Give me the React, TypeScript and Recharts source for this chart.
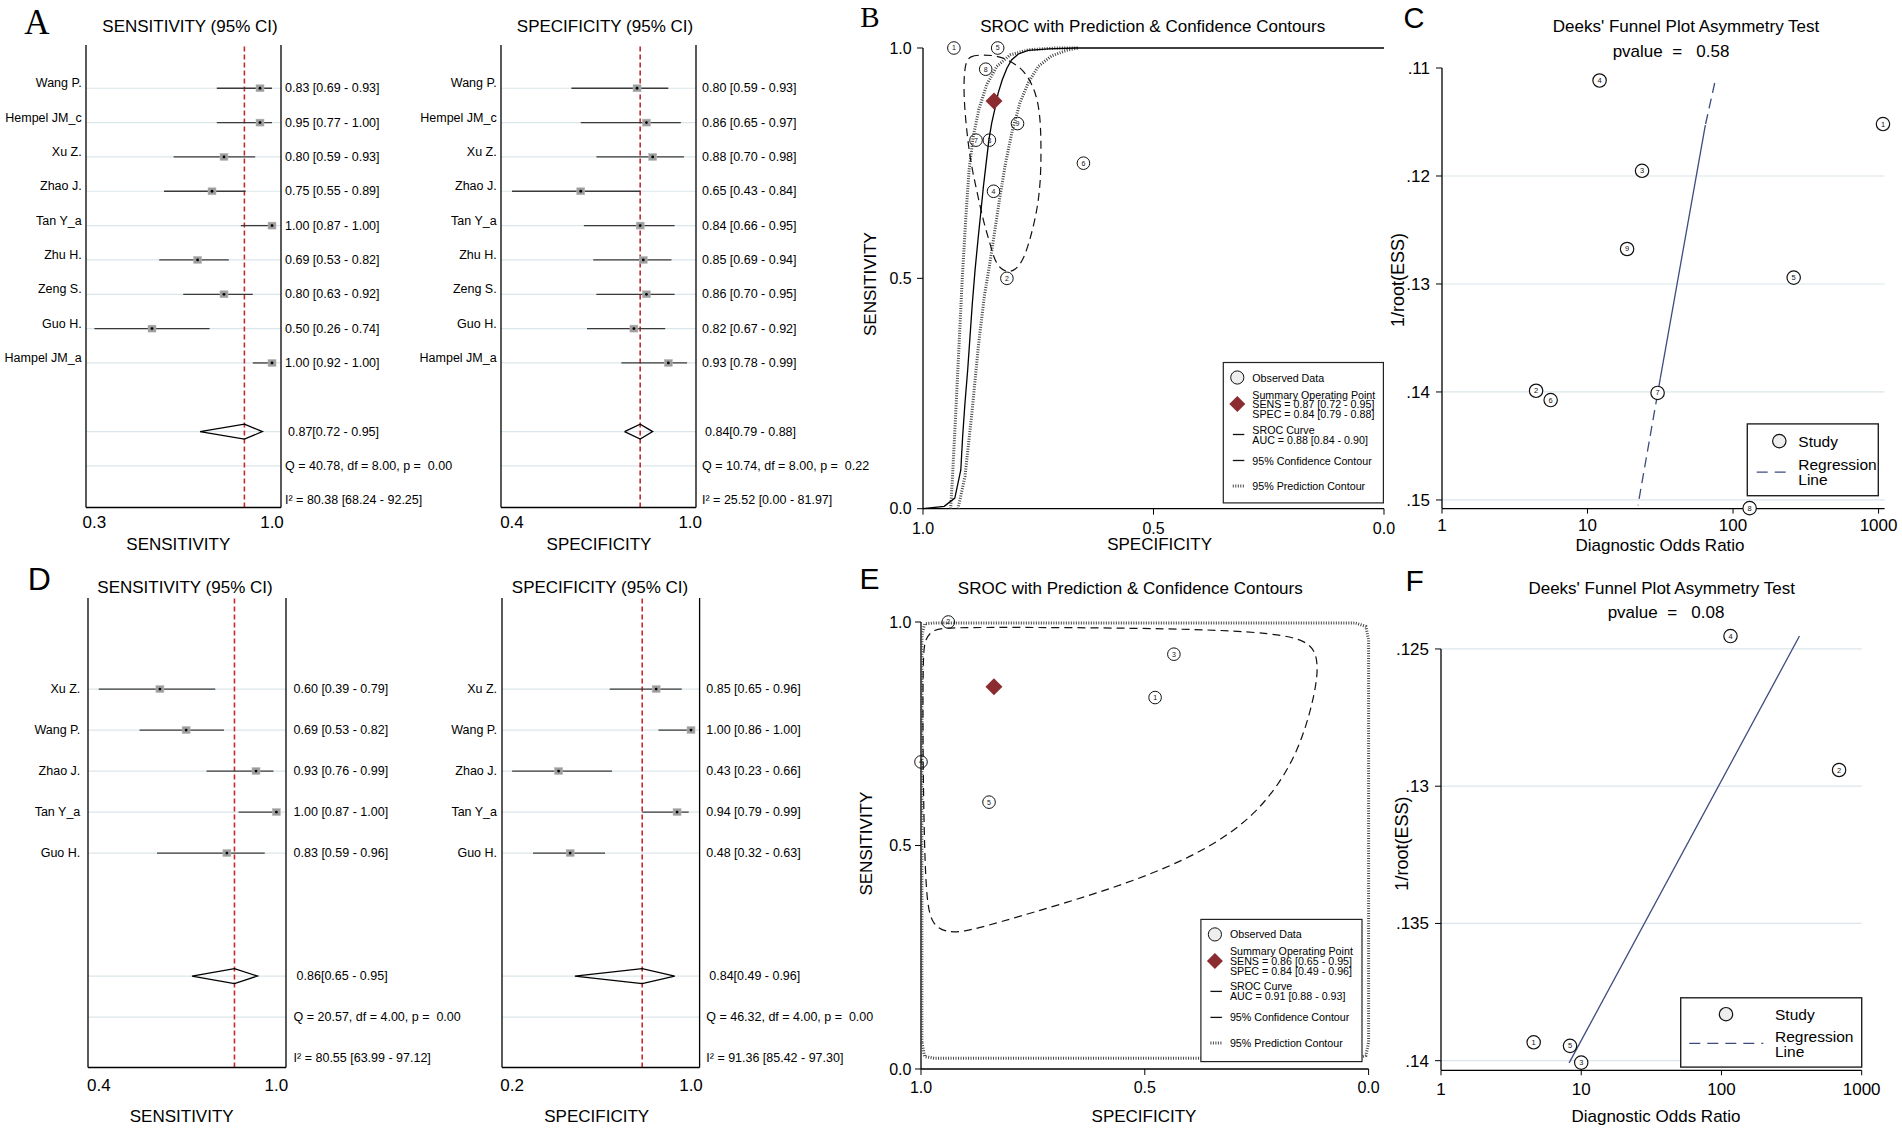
import React from 'react';
import { ScatterChart, Scatter, XAxis, YAxis, ReferenceLine } from 'recharts';

const SANS = '"Liberation Sans", Arial, Helvetica, sans-serif';
const SERIF = '"Liberation Serif", "Times New Roman", serif';
const RED = '#c62a2f';
const WINE = '#8b2c31';
const NAVY = '#3d4c7e';
const GRID = '#dbe6ea';
const PRED = '#444';

// ---- panel A: forest plots, 9 studies
const studiesA = ['Wang P.', 'Hempel JM_c', 'Xu Z.', 'Zhao J.', 'Tan Y_a', 'Zhu H.', 'Zeng S.', 'Guo H.', 'Hampel JM_a'];
const sensA = [0.95, 0.95, 0.8, 0.75, 1.0, 0.69, 0.8, 0.5, 1.0];
const sensLoA = [0.77, 0.77, 0.59, 0.55, 0.87, 0.53, 0.63, 0.26, 0.92];
const sensHiA = [1.0, 1.0, 0.93, 0.89, 1.0, 0.82, 0.92, 0.74, 1.0];
const sensTextA = ['0.83 [0.69 - 0.93]', '0.95 [0.77 - 1.00]', '0.80 [0.59 - 0.93]', '0.75 [0.55 - 0.89]', '1.00 [0.87 - 1.00]', '0.69 [0.53 - 0.82]', '0.80 [0.63 - 0.92]', '0.50 [0.26 - 0.74]', '1.00 [0.92 - 1.00]'];
const sensPoolA = [0.7, 0.885, 0.96];
const sensStatsA = ['0.87[0.72 - 0.95]', 'Q = 40.78, df = 8.00, p =  0.00', 'I² = 80.38 [68.24 - 92.25]'];

const specA = [0.83, 0.86, 0.88, 0.65, 0.84, 0.85, 0.86, 0.82, 0.93];
const specLoA = [0.62, 0.65, 0.7, 0.43, 0.66, 0.69, 0.7, 0.67, 0.78];
const specHiA = [0.93, 0.97, 0.98, 0.84, 0.95, 0.94, 0.95, 0.92, 0.99];
const specTextA = ['0.80 [0.59 - 0.93]', '0.86 [0.65 - 0.97]', '0.88 [0.70 - 0.98]', '0.65 [0.43 - 0.84]', '0.84 [0.66 - 0.95]', '0.85 [0.69 - 0.94]', '0.86 [0.70 - 0.95]', '0.82 [0.67 - 0.92]', '0.93 [0.78 - 0.99]'];
const specPoolA = [0.79, 0.84, 0.88];
const specStatsA = ['0.84[0.79 - 0.88]', 'Q = 10.74, df = 8.00, p =  0.22', 'I² = 25.52 [0.00 - 81.97]'];

// ---- panel D: forest plots, 5 studies
const studiesD = ['Xu Z.', 'Wang P.', 'Zhao J.', 'Tan Y_a', 'Guo H.'];
const sensD = [0.6, 0.69, 0.93, 1.0, 0.83];
const sensLoD = [0.39, 0.53, 0.76, 0.87, 0.59];
const sensHiD = [0.79, 0.82, 0.99, 1.0, 0.96];
const sensTextD = ['0.60 [0.39 - 0.79]', '0.69 [0.53 - 0.82]', '0.93 [0.76 - 0.99]', '1.00 [0.87 - 1.00]', '0.83 [0.59 - 0.96]'];
const sensPoolD = [0.71, 0.856, 0.935];
const sensStatsD = ['0.86[0.65 - 0.95]', 'Q = 20.57, df = 4.00, p =  0.00', 'I² = 80.55 [63.99 - 97.12]'];

const specD = [0.85, 1.0, 0.43, 0.94, 0.48];
const specLoD = [0.65, 0.86, 0.23, 0.79, 0.32];
const specHiD = [0.96, 1.0, 0.66, 0.99, 0.63];
const specTextD = ['0.85 [0.65 - 0.96]', '1.00 [0.86 - 1.00]', '0.43 [0.23 - 0.66]', '0.94 [0.79 - 0.99]', '0.48 [0.32 - 0.63]'];
const specPoolD = [0.5, 0.79, 0.93];
const specStatsD = ['0.84[0.49 - 0.96]', 'Q = 46.32, df = 4.00, p =  0.00', 'I² = 91.36 [85.42 - 97.30]'];

// ---- panel B: SROC (x = specificity, y = sensitivity)
const obsSpecB = [0.933, 0.818, 0.856, 0.847, 0.838, 0.652, 0.885, 0.864, 0.795];
const obsSensB = [1.0, 0.5, 0.8, 0.689, 1.0, 0.75, 0.8, 0.954, 0.836];
const summaryB = [0.846, 0.885];
const srocB = [[1.0, 0.0], [0.954, 0.005], [0.931, 0.023], [0.918, 0.084], [0.914, 0.157], [0.909, 0.229], [0.903, 0.302], [0.898, 0.374], [0.893, 0.446], [0.887, 0.519], [0.88, 0.591], [0.874, 0.649], [0.869, 0.699], [0.863, 0.75], [0.857, 0.801], [0.851, 0.837], [0.842, 0.877], [0.837, 0.902], [0.828, 0.931], [0.818, 0.956], [0.808, 0.974], [0.793, 0.987], [0.772, 0.995], [0.728, 0.998], [0.67, 1.0], [0.0, 1.0]];
const confB = [[0.909, 0.967], [0.898, 0.983], [0.873, 0.985], [0.844, 0.984], [0.818, 0.976], [0.786, 0.956], [0.768, 0.931], [0.753, 0.895], [0.746, 0.851], [0.744, 0.801], [0.744, 0.736], [0.748, 0.678], [0.757, 0.627], [0.768, 0.584], [0.782, 0.54], [0.8, 0.517], [0.818, 0.513], [0.833, 0.522], [0.845, 0.54], [0.855, 0.577], [0.866, 0.613], [0.876, 0.656], [0.887, 0.707], [0.896, 0.75], [0.903, 0.801], [0.909, 0.859], [0.912, 0.916]];
const predB = [[0.94, 0.0], [0.936, 0.07], [0.929, 0.207], [0.922, 0.352], [0.915, 0.497], [0.907, 0.634], [0.9, 0.736], [0.891, 0.808], [0.879, 0.866], [0.862, 0.92], [0.84, 0.96], [0.811, 0.985], [0.772, 0.996], [0.714, 1.0], [0.663, 1.0], [0.685, 0.996], [0.721, 0.983], [0.75, 0.96], [0.772, 0.924], [0.79, 0.88], [0.806, 0.822], [0.821, 0.75], [0.833, 0.678], [0.844, 0.605], [0.855, 0.533], [0.867, 0.461], [0.88, 0.352], [0.894, 0.207], [0.909, 0.07], [0.924, 0.0]];

// ---- panel E: SROC
const obsSpecE = [0.477, 0.939, 0.435, 1.0, 0.848];
const obsSensE = [0.831, 1.0, 0.928, 0.687, 0.597];
const summaryE = [0.837, 0.855];
const confE = [[0.991, 0.963], [0.972, 0.984], [0.937, 0.988], [0.675, 0.988], [0.368, 0.984], [0.214, 0.975], [0.137, 0.959], [0.114, 0.926], [0.114, 0.869], [0.137, 0.771], [0.175, 0.673], [0.252, 0.567], [0.368, 0.486], [0.522, 0.421], [0.675, 0.372], [0.829, 0.327], [0.906, 0.306], [0.945, 0.306], [0.975, 0.323], [0.987, 0.372], [0.992, 0.486], [0.995, 0.649], [0.996, 0.812], [0.995, 0.926]];
const predE = [[0.998, 0.06], [0.998, 0.97], [0.992, 0.996], [0.97, 0.998], [0.03, 0.998], [0.006, 0.99], [0.0, 0.96], [0.0, 0.06], [0.006, 0.03], [0.03, 0.024], [0.97, 0.024], [0.992, 0.028]];

// ---- panel C: Deeks funnel (x = diagnostic odds ratio, y = 1/root(ESS))
const dorC = [1072, 4.43, 23.7, 12.1, 261, 5.58, 30.3, 130, 18.7];
const essC = [0.11519, 0.13989, 0.11952, 0.11116, 0.12941, 0.14075, 0.14009, 0.15076, 0.12676];
const regTopC = [[74.8, 0.11139], [64.5, 0.11529]];
const regMidC = [[64.5, 0.11529], [31.6, 0.13877]];
const regLowC = [[31.6, 0.13877], [22.2, 0.15051]];

// ---- panel F: Deeks funnel
const dorF = [4.58, 690, 10.0, 116, 8.32];
const essF = [0.13933, 0.12941, 0.14007, 0.12453, 0.13946];
const regF = [[8.2, 0.14008], [360, 0.12453]];

type Frame = { x: number; y: number; w: number; h: number };

const fmt1 = (v: number) => v.toFixed(1);
const fmtEss = (v: number) => String(v).replace(/^0/, '');
const Empty = () => <g />;

const lineSeries = (key: string, pts: number[][], stroke: string, w: number, dash?: string, joint: any = 'linear', yAxisId?: string) => (
  <Scatter
    key={key}
    yAxisId={yAxisId}
    data={pts.map(([x, y]) => ({ x, y }))}
    line={{ stroke, strokeWidth: w, strokeDasharray: dash }}
    lineJointType={joint}
    shape={Empty}
    isAnimationActive={false}
  />
);

const Marker = (s: any) => (
  <g>
    <rect x={s.cx - 4} y={s.cy - 3.5} width={8} height={7} fill="#9d9d9d" stroke="#b8b8b8" strokeWidth={0.5} />
    <circle cx={s.cx} cy={s.cy} r={1.4} fill="#000" />
  </g>
);

const ObsShape = (s: any) => (
  <g>
    <circle cx={s.cx} cy={s.cy} r={6.3} fill="none" stroke="#111" strokeWidth={1} />
    <text x={s.cx} y={s.cy} textAnchor="middle" dominantBaseline="central" fontSize={7} fill="#111">{s.payload.id}</text>
  </g>
);

const StudyShape = (s: any) => (
  <g>
    <circle cx={s.cx} cy={s.cy} r={6.7} fill="#fff" stroke="#111" strokeWidth={1.2} />
    <text x={s.cx} y={s.cy} textAnchor="middle" dominantBaseline="central" fontSize={7.5} fill="#111">{s.payload.id}</text>
  </g>
);

const DiamondShape = (s: any) => (
  <polygon points={`${s.cx},${s.cy - 8.5} ${s.cx + 8.5},${s.cy} ${s.cx},${s.cy + 8.5} ${s.cx - 8.5},${s.cy}`} fill={WINE} />
);

type ForestProps = {
  frame: Frame; xDomain: [number, number]; xTicks: number[]; yDomain: [number, number];
  names: string[]; est: number[]; lo: number[]; hi: number[]; texts: string[];
  pool: number[]; stats: string[]; poolRow: number;
  nameGap: number; textGap: number; tickGap: number; nameDy: number;
};

function Forest(p: ForestProps) {
  const leftW = 100, rightW = 210, xH = 45;
  const n = p.names.length;
  const rows = p.names.map((_, i) => i + 1);
  const statRows = [p.poolRow, p.poolRow + 1, p.poolRow + 2];
  const dh = 7.5 / (p.frame.h / (p.yDomain[1] - p.yDomain[0]));
  const points = p.est.map((v, i) => ({ x: v, y: i + 1 }));
  const r = p.poolRow;
  const diamond = [
    [p.pool[0], r], [p.pool[1], r - dh], [p.pool[2], r], [p.pool[1], r + dh], [p.pool[0], r],
  ];
  const nameTick = (t: any) => (
    <text x={t.x} y={t.y + p.nameDy} textAnchor="end" dominantBaseline="central" fontSize={12.5} fill="#000">
      {p.names[Math.round(t.payload.value) - 1]}
    </text>
  );
  const textTick = (t: any) => {
    const v = Math.round(t.payload.value);
    const label = v <= n ? p.texts[v - 1] : p.stats[v - p.poolRow];
    return (
      <text x={t.x + (v === p.poolRow ? 3 : 0)} y={t.y} textAnchor="start" dominantBaseline="central" fontSize={12.5} fill="#000" xmlSpace="preserve">
        {label}
      </text>
    );
  };
  return (
    <div style={{ position: 'absolute', left: p.frame.x - leftW, top: p.frame.y }}>
      <ScatterChart width={leftW + p.frame.w + rightW} height={p.frame.h + xH} margin={{ top: 0, right: 0, bottom: 0, left: 0 }}>
        <XAxis type="number" dataKey="x" domain={p.xDomain} ticks={p.xTicks} interval={0} tickFormatter={fmt1} height={xH}
          axisLine={{ stroke: '#000', strokeWidth: 1.3 }} tickLine={false} tickSize={0} tickMargin={p.tickGap} tick={{ fill: '#000', fontSize: 17 }} />
        <YAxis yAxisId="l" type="number" dataKey="y" domain={p.yDomain} reversed ticks={rows} interval={0} width={leftW}
          axisLine={{ stroke: '#000', strokeWidth: 1.3 }} tickLine={false} tickSize={0} tickMargin={p.nameGap} tick={nameTick} />
        <YAxis yAxisId="r" orientation="right" type="number" dataKey="y" domain={p.yDomain} reversed ticks={[...rows, ...statRows]} interval={0} width={rightW}
          axisLine={{ stroke: '#000', strokeWidth: 1.3 }} tickLine={false} tickSize={0} tickMargin={p.textGap} tick={textTick} />
        {[...rows, p.poolRow, p.poolRow + 1].map((y) => (
          <ReferenceLine key={'g' + y} yAxisId="l" y={y} stroke={GRID} strokeWidth={1.2} />
        ))}
        <ReferenceLine yAxisId="l" x={p.pool[1]} stroke={RED} strokeWidth={1.6} strokeDasharray="5 3" />
        {rows.map((y, i) => (
          <ReferenceLine key={'ci' + y} yAxisId="l" segment={[{ x: p.lo[i], y }, { x: p.hi[i], y }]} stroke="#3a3a3a" strokeWidth={1.3} />
        ))}
        <Scatter yAxisId="r" data={points} shape={Empty} isAnimationActive={false} />
        <Scatter yAxisId="l" data={points} shape={Marker} isAnimationActive={false} />
        {lineSeries('diamond', diamond, '#000', 1.3, undefined, 'linear', 'l')}
      </ScatterChart>
    </div>
  );
}

type SrocProps = {
  frame: Frame; spec: number[]; sens: number[]; summary: number[];
  sroc?: number[][]; conf: number[][]; pred: number[][]; predJoint: string;
  xTM: number; yTM: number;
};

function Sroc(p: SrocProps) {
  const yW = 60, xH = 50, mt = 20, mr = 25;
  const obs = p.spec.map((x, i) => ({ x, y: p.sens[i], id: i + 1 }));
  return (
    <div style={{ position: 'absolute', left: p.frame.x - yW, top: p.frame.y - mt }}>
      <ScatterChart width={yW + p.frame.w + mr} height={mt + p.frame.h + xH} margin={{ top: mt, right: mr, bottom: 0, left: 0 }}>
        <XAxis type="number" dataKey="x" domain={[0, 1]} reversed ticks={[0, 0.5, 1]} interval={0} tickFormatter={fmt1} height={xH}
          axisLine={{ stroke: '#000', strokeWidth: 1.3 }} tickLine={{ stroke: '#000' }} tickSize={6} tickMargin={p.xTM} tick={{ fill: '#000', fontSize: 16 }} />
        <YAxis type="number" dataKey="y" domain={[0, 1]} ticks={[0, 0.5, 1]} interval={0} tickFormatter={fmt1} width={yW}
          axisLine={{ stroke: '#000', strokeWidth: 1.3 }} tickLine={{ stroke: '#000' }} tickSize={6} tickMargin={p.yTM} tick={{ fill: '#000', fontSize: 16 }} />
        {lineSeries('pred', p.pred, PRED, 3, '1 1.5', p.predJoint)}
        {lineSeries('conf', p.conf, '#111', 1.2, '8 5', 'basisClosed')}
        {p.sroc && lineSeries('sroc', p.sroc, '#000', 1.3)}
        <Scatter data={obs} shape={ObsShape} isAnimationActive={false} />
        <Scatter data={[{ x: p.summary[0], y: p.summary[1] }]} shape={DiamondShape} isAnimationActive={false} />
      </ScatterChart>
    </div>
  );
}

type DeeksProps = {
  frame: Frame; xMax: number; yDomain: [number, number]; yTicks: number[]; grid: number[];
  dor: number[]; ess: number[]; reg: { pts: number[][]; dash?: string }[]; axisFrom?: number; xTM: number;
};

function Deeks(p: DeeksProps) {
  const yW = 60, xH = 50, mt = 20, mr = 30;
  const pts = p.dor.map((x, i) => ({ x, y: p.ess[i], id: i + 1 }));
  const ownAxis = p.axisFrom !== undefined;
  return (
    <div style={{ position: 'absolute', left: p.frame.x - yW, top: p.frame.y - mt }}>
      <ScatterChart width={yW + p.frame.w + mr} height={mt + p.frame.h + xH} margin={{ top: mt, right: mr, bottom: 0, left: 0 }}>
        <XAxis type="number" dataKey="x" scale="log" domain={[1, p.xMax]} ticks={[1, 10, 100, 1000]} interval={0} height={xH}
          axisLine={{ stroke: '#000', strokeWidth: 1.3 }} tickLine={{ stroke: '#000' }} tickSize={5} tickMargin={p.xTM} tick={{ fill: '#000', fontSize: 17 }} />
        <YAxis type="number" dataKey="y" reversed domain={p.yDomain} ticks={p.yTicks} interval={0} tickFormatter={fmtEss} width={yW}
          axisLine={ownAxis ? false : { stroke: '#000', strokeWidth: 1.3 }} tickLine={{ stroke: '#000' }} tickSize={6} tickMargin={6} tick={{ fill: '#000', fontSize: 17 }} />
        {p.grid.map((g) => <ReferenceLine key={'g' + g} y={g} stroke={GRID} strokeWidth={1.2} />)}
        {ownAxis && (
          <ReferenceLine segment={[{ x: 1, y: p.axisFrom as number }, { x: 1, y: p.yDomain[1] - 0.00001 }]} stroke="#000" strokeWidth={1.3} />
        )}
        {p.reg.map((s, i) => lineSeries('reg' + i, s.pts, NAVY, 1.3, s.dash))}
        <Scatter data={pts} shape={StudyShape} isAnimationActive={false} />
      </ScatterChart>
    </div>
  );
}

const T = (props: { x: number; y: number; s?: number; a?: string; f?: string; rot?: boolean; children: any }) => {
  const { x, y, s = 17, a = 'middle', f = SANS, rot, children } = props;
  return (
    <text x={x} y={y} fontSize={s} textAnchor={a as any} dominantBaseline="central" fontFamily={f} fill="#000"
      xmlSpace="preserve" transform={rot ? `rotate(-90 ${x} ${y})` : undefined}>
      {children}
    </text>
  );
};

const SrocLegend = (props: { x: number; y: number; w: number; h: number; sens: string; spec: string; auc: string }) => {
  const { x, y, w, h } = props;
  const tx = x + 29, fs = 10.7;
  return (
    <g>
      <rect x={x} y={y} width={w} height={h} fill="#fff" stroke="#222" strokeWidth={1.2} />
      <circle cx={x + 14} cy={y + 15} r={6.6} fill="#eee" stroke="#111" strokeWidth={1} />
      <T x={tx} y={y + 15} s={fs} a="start">Observed Data</T>
      <polygon points={`${x + 14},${y + 33.5} ${x + 22},${y + 41.5} ${x + 14},${y + 49.5} ${x + 6},${y + 41.5}`} fill={WINE} />
      <T x={tx} y={y + 32} s={fs} a="start">Summary Operating Point</T>
      <T x={tx} y={y + 41.5} s={fs} a="start">{props.sens}</T>
      <T x={tx} y={y + 51.5} s={fs} a="start">{props.spec}</T>
      <line x1={x + 9.5} x2={x + 21} y1={y + 72} y2={y + 72} stroke="#111" strokeWidth={1.3} />
      <T x={tx} y={y + 67} s={fs} a="start">SROC Curve</T>
      <T x={tx} y={y + 77} s={fs} a="start">{props.auc}</T>
      <line x1={x + 9.5} x2={x + 21} y1={y + 98} y2={y + 98} stroke="#111" strokeWidth={1.3} />
      <T x={tx} y={y + 98} s={fs} a="start">95% Confidence Contour</T>
      <line x1={x + 9.5} x2={x + 21} y1={y + 123.5} y2={y + 123.5} stroke={PRED} strokeWidth={3} strokeDasharray="1 1.5" />
      <T x={tx} y={y + 123.5} s={fs} a="start">95% Prediction Contour</T>
    </g>
  );
};

const DeeksLegend = (props: { x: number; y: number; w: number; h: number; cx: number; tx: number; d0: number; d1: number; cy: number; r1: number; r2: number; dy: number }) => {
  const { x, y, w, h } = props;
  return (
    <g>
      <rect x={x} y={y} width={w} height={h} fill="#fff" stroke="#222" strokeWidth={1.4} />
      <circle cx={x + props.cx} cy={y + props.cy} r={6.7} fill="#eee" stroke="#111" strokeWidth={1.2} />
      <T x={x + props.tx} y={y + props.cy} s={15.5} a="start">Study</T>
      <line x1={x + props.d0} x2={x + props.d1} y1={y + props.dy} y2={y + props.dy} stroke={NAVY} strokeWidth={1.3} strokeDasharray="11 7" />
      <T x={x + props.tx} y={y + props.r1} s={15.5} a="start">Regression</T>
      <T x={x + props.tx} y={y + props.r2} s={15.5} a="start">Line</T>
    </g>
  );
};

export default function App() {
  return (
    <div style={{ position: 'absolute', left: 0, top: 0, width: 1902, height: 1132, background: '#fff', fontFamily: SANS, overflow: 'hidden' }}>
      <Forest frame={{ x: 86, y: 44.6, w: 195, h: 462.5 }} xDomain={[0.225, 1.0375]} xTicks={[0.26, 1.0]} yDomain={[-0.26, 13.21]}
        names={studiesA} est={sensA} lo={sensLoA} hi={sensHiA} texts={sensTextA} pool={sensPoolA} stats={sensStatsA} poolRow={11}
        nameGap={4.3} textGap={4} tickGap={8.3} nameDy={-5} />
      <Forest frame={{ x: 501, y: 44.6, w: 195, h: 462.5 }} xDomain={[0.395, 1.0185]} xTicks={[0.43, 1.0]} yDomain={[-0.26, 13.21]}
        names={studiesA} est={specA} lo={specLoA} hi={specHiA} texts={specTextA} pool={specPoolA} stats={specStatsA} poolRow={11}
        nameGap={4.3} textGap={6} tickGap={8.3} nameDy={-5} />
      <Forest frame={{ x: 87.7, y: 598.3, w: 198, h: 469.5 }} xDomain={[0.353, 1.033]} xTicks={[0.39, 1.0]} yDomain={[-1.22, 10.23]}
        names={studiesD} est={sensD} lo={sensLoD} hi={sensHiD} texts={sensTextD} pool={sensPoolD} stats={sensStatsD} poolRow={8}
        nameGap={7.7} textGap={7.6} tickGap={11.6} nameDy={0} />
      <Forest frame={{ x: 501.7, y: 598.3, w: 197.6, h: 469.5 }} xDomain={[0.1865, 1.037]} xTicks={[0.23, 1.0]} yDomain={[-1.22, 10.23]}
        names={studiesD} est={specD} lo={specLoD} hi={specHiD} texts={specTextD} pool={specPoolD} stats={specStatsD} poolRow={8}
        nameGap={5} textGap={6.7} tickGap={11.6} nameDy={0} />

      <Sroc frame={{ x: 923, y: 48.2, w: 461, h: 460.7 }} spec={obsSpecB} sens={obsSensB} summary={summaryB}
        sroc={srocB} conf={confB} pred={predB} predJoint="linear" xTM={8.1} yTM={5.3} />
      <Sroc frame={{ x: 921.3, y: 622, w: 447.6, h: 447 }} spec={obsSpecE} sens={obsSensE} summary={summaryE}
        conf={confE} pred={predE} predJoint="linearClosed" xTM={6.6} yTM={3.6} />

      <Deeks frame={{ x: 1441.7, y: 67.9, w: 442.6, h: 440.6 }} xMax={1100} yDomain={[0.11, 0.1508]} yTicks={[0.11, 0.12, 0.13, 0.14, 0.15]}
        grid={[0.12, 0.13, 0.14, 0.15]} dor={dorC} ess={essC} xTM={5.5}
        reg={[{ pts: regTopC, dash: '10 6' }, { pts: regMidC }, { pts: regLowC, dash: '10 6' }]} />
      <Deeks frame={{ x: 1441, y: 626.7, w: 420.7, h: 443.3 }} xMax={1000} yDomain={[0.1242, 0.14035]} yTicks={[0.125, 0.13, 0.135, 0.14]}
        grid={[0.125, 0.13, 0.135, 0.14]} dor={dorF} ess={essF} xTM={8} axisFrom={0.125}
        reg={[{ pts: regF }]} />

      <svg width={1902} height={1132} style={{ position: 'absolute', left: 0, top: 0, pointerEvents: 'none' }}>
        <T x={37} y={22} s={35} f={SERIF}>A</T>
        <T x={870} y={17} s={29} f={SERIF}>B</T>
        <T x={1414} y={17.5} s={29}>C</T>
        <T x={39.2} y={579.2} s={32}>D</T>
        <T x={869.5} y={578.3} s={30}>E</T>
        <T x={1414.7} y={580} s={30}>F</T>

        <T x={190} y={26.8}>SENSITIVITY (95% CI)</T>
        <T x={605} y={26.8}>SPECIFICITY (95% CI)</T>
        <T x={1152.7} y={26.8}>SROC with Prediction &amp; Confidence Contours</T>
        <T x={1686} y={26.8}>Deeks' Funnel Plot Asymmetry Test</T>
        <T x={1671} y={51.1}>pvalue  =   0.58</T>
        <T x={185} y={587.4}>SENSITIVITY (95% CI)</T>
        <T x={600} y={587.4}>SPECIFICITY (95% CI)</T>
        <T x={1130.3} y={588.5}>SROC with Prediction &amp; Confidence Contours</T>
        <T x={1661.7} y={588.5}>Deeks' Funnel Plot Asymmetry Test</T>
        <T x={1666} y={612.2}>pvalue  =   0.08</T>

        <T x={178.3} y={544.6}>SENSITIVITY</T>
        <T x={599} y={544.6}>SPECIFICITY</T>
        <T x={1159.6} y={544.6}>SPECIFICITY</T>
        <T x={870.3} y={284} rot>SENSITIVITY</T>
        <T x={1660} y={545.7}>Diagnostic Odds Ratio</T>
        <T x={1398.3} y={280} s={18} rot>1/root(ESS)</T>
        <T x={181.7} y={1116.4}>SENSITIVITY</T>
        <T x={596.7} y={1116.4}>SPECIFICITY</T>
        <T x={1144} y={1116.4}>SPECIFICITY</T>
        <T x={867} y={843.6} rot>SENSITIVITY</T>
        <T x={1656} y={1116.4}>Diagnostic Odds Ratio</T>
        <T x={1401.7} y={843.6} s={18} rot>1/root(ESS)</T>

        <SrocLegend x={1223.3} y={362.5} w={160.1} h={140.4} sens="SENS = 0.87 [0.72 - 0.95]" spec="SPEC = 0.84 [0.79 - 0.88]" auc="AUC = 0.88 [0.84 - 0.90]" />
        <SrocLegend x={1200.9} y={919.4} w={161.1} h={142.2} sens="SENS = 0.86 [0.65 - 0.95]" spec="SPEC = 0.84 [0.49 - 0.96]" auc="AUC = 0.91 [0.88 - 0.93]" />
        <DeeksLegend x={1747.3} y={423.9} w={131} h={71.8} cx={32} tx={51} cy={17.2} d0={9.4} d1={39.4} dy={48.2} r1={40.4} r2={55.7} />
        <DeeksLegend x={1680.7} y={997.8} w={181} h={69.3} cx={45.3} tx={94.3} cy={16.4} d0={8.6} d1={82.6} dy={45.6} r1={38.3} r2={53.6} />
      </svg>
    </div>
  );
}
